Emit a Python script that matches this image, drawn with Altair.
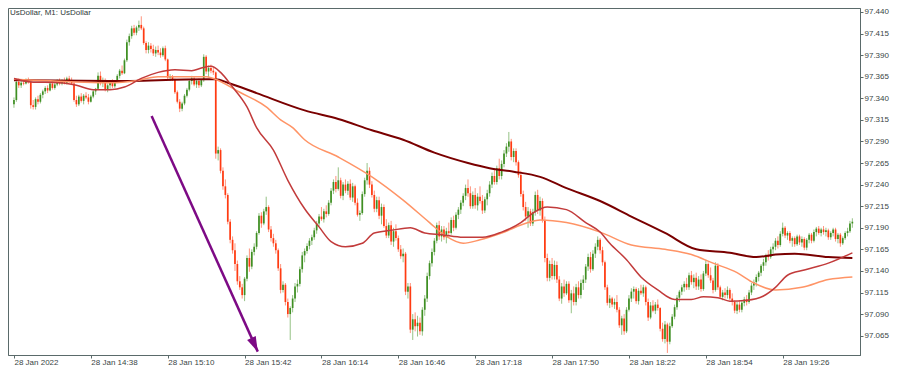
import json
import altair as alt
import pandas as pd

# ---- candle data: prices in thousandths above 97.000, one candle per minute from 14:06 ----
OPEN = [333,338,359,355,358,357,361,359,332,330,
339,336,344,348,352,349,357,352,356,360,
357,361,358,363,360,357,338,333,342,337,
343,341,336,342,348,351,366,358,361,350,
355,359,354,360,366,372,369,384,405,412,
421,416,422,425,421,404,396,401,397,392,
396,393,390,398,385,364,365,362,347,336,
328,334,343,350,360,363,356,360,355,361,
388,371,375,372,370,276,280,256,238,228,
197,176,164,148,128,121,112,131,155,145,
162,168,184,204,195,209,214,188,178,172,
164,143,118,124,104,90,97,108,122,125,
142,158,163,169,175,179,187,195,203,200,
209,206,219,233,243,235,245,227,240,233,
241,225,238,219,205,207,229,245,256,240,
228,212,222,204,214,192,181,193,174,186,
178,165,157,160,116,122,72,84,76,80,
70,95,108,134,149,162,175,193,180,188,
179,186,184,199,190,205,211,219,227,236,
230,215,228,216,226,221,210,223,230,240,
250,243,259,250,264,276,284,290,272,279,
266,251,229,214,203,209,195,208,228,210,
221,199,155,132,148,134,147,130,108,122,
114,125,106,114,104,121,112,126,130,145,
156,142,160,168,176,164,150,121,103,108,
101,104,95,77,85,70,95,108,116,119,
105,117,114,121,104,86,100,94,101,97,
73,61,78,58,76,87,98,109,116,121,
125,121,135,127,132,122,130,119,137,148,
135,129,118,146,121,110,115,112,118,108,
104,94,101,95,103,107,104,115,123,127,
133,138,146,150,158,156,165,168,175,170,
183,190,181,184,175,178,171,180,173,177,
167,176,182,175,185,189,184,188,185,187,
179,184,188,177,182,172,178,184,186,195]

HIGH = [341,362,363,360,362,363,364,360,338,341,
343,346,350,354,355,359,360,358,362,363,
362,364,365,366,364,359,343,344,346,345,
347,345,344,350,352,370,371,364,363,357,
361,362,361,368,374,378,386,408,415,424,
425,424,430,435,423,406,405,404,402,400,
401,398,400,401,386,368,367,363,349,339,
336,345,352,362,366,365,362,363,362,391,
390,378,379,376,371,284,282,260,246,230,
200,180,172,152,134,125,133,158,166,165,
172,186,207,208,212,226,216,192,183,176,
166,148,128,126,108,99,112,126,130,145,
162,166,172,178,182,190,198,206,214,212,
216,222,236,246,250,260,248,243,246,244,
246,242,240,224,210,232,248,265,260,244,
233,226,226,218,217,200,196,198,190,194,
181,170,166,162,126,126,90,92,88,86,
98,112,138,152,166,178,196,198,192,192,
190,196,202,204,208,214,222,230,240,246,
238,232,236,230,238,228,226,234,244,254,
258,262,270,268,280,288,301,293,282,282,
268,256,233,220,214,212,212,232,234,226,
224,203,160,152,155,152,151,134,126,130,
128,128,118,122,125,128,130,135,148,160,
162,164,172,180,178,168,152,124,112,110,
108,112,98,88,90,98,112,120,122,121,
120,124,124,123,108,104,106,104,107,98,
80,82,80,80,90,101,112,118,124,128,
132,138,140,136,138,134,136,140,153,150,
144,132,150,149,123,118,120,122,120,114,
106,104,106,106,110,112,118,126,130,136,
140,148,154,160,164,168,172,178,180,186,
196,192,186,186,180,180,182,182,180,179,
178,184,184,188,191,192,190,192,190,189,
186,190,190,184,184,180,186,190,198,201]

LOW = [329,336,352,352,355,356,357,328,327,327,
333,334,340,345,346,348,350,350,354,355,
355,356,356,358,356,336,330,331,335,333,
339,333,335,340,344,350,355,353,348,347,
351,352,352,358,363,367,368,382,401,409,
413,413,418,419,402,392,392,393,389,388,
390,387,388,383,362,360,360,345,334,324,
325,332,341,348,356,354,352,352,353,359,
368,364,369,367,270,268,253,234,224,194,
172,160,140,124,118,108,105,128,139,142,
158,165,182,190,193,205,185,174,168,160,
140,114,115,100,86,60,92,104,115,122,
138,150,160,165,170,176,183,192,198,196,
202,204,216,229,231,233,224,222,230,228,
222,220,216,203,198,205,226,240,236,225,
208,208,200,194,190,178,178,170,168,175,
162,154,150,112,108,68,60,70,64,66,
65,88,104,130,145,158,172,176,174,176,
172,180,182,186,188,200,206,215,222,226,
212,212,212,210,218,206,207,216,226,236,
240,240,246,246,260,272,278,268,266,262,
248,226,210,198,190,192,192,204,206,204,
196,150,128,128,130,130,126,105,102,110,
112,103,91,100,100,108,108,118,126,140,
138,140,155,164,160,146,118,100,97,98,
96,92,74,66,66,68,93,104,108,102,
101,112,110,100,82,84,92,90,94,70,
58,56,45,55,74,84,95,104,112,116,
118,118,124,120,118,118,116,117,134,132,
126,114,116,118,108,106,108,108,106,100,
91,90,92,92,99,100,102,112,118,122,
128,134,140,146,152,154,160,164,166,168,
180,178,176,172,168,168,169,170,168,164,
164,172,172,173,180,182,180,182,180,176,
176,180,174,172,168,170,176,180,184,190]

CLOSE = [338,359,355,358,357,361,359,332,330,339,
336,344,348,352,349,357,352,356,360,357,
361,358,363,360,357,338,333,342,337,343,
341,336,342,348,351,366,358,361,350,355,
359,354,360,366,372,369,384,405,412,421,
416,422,425,421,404,396,401,397,392,396,
393,390,398,385,364,365,362,347,336,328,
334,343,350,360,363,356,360,355,361,388,
371,375,372,370,276,280,256,238,228,197,
176,164,148,128,121,112,131,155,145,162,
168,184,204,195,209,214,188,178,172,164,
143,118,124,104,90,97,108,122,125,142,
158,163,169,175,179,187,195,203,200,209,
206,219,233,243,235,245,227,240,233,241,
225,238,219,205,207,229,245,256,240,228,
212,222,204,214,192,181,193,174,186,178,
165,157,160,116,122,72,84,76,80,70,
95,108,134,149,162,175,193,180,188,179,
186,184,199,190,205,211,219,227,236,230,
215,228,216,226,221,210,223,230,240,250,
243,259,250,264,276,284,290,272,279,266,
251,229,214,203,209,195,208,228,210,221,
199,155,132,148,134,147,130,108,122,114,
125,106,114,104,121,112,126,130,145,156,
142,160,168,176,164,150,121,103,108,101,
104,95,77,85,70,95,108,116,119,105,
117,114,121,104,86,100,94,101,97,73,
61,78,58,76,87,98,109,116,121,125,
121,135,127,132,122,130,119,137,148,135,
129,118,146,121,110,115,112,118,108,104,
94,101,95,103,107,104,115,123,127,133,
138,146,150,158,156,165,168,175,170,183,
190,181,184,175,178,171,180,173,177,167,
176,182,175,185,189,184,188,185,187,179,
184,188,177,182,172,178,184,186,195,197]

# ---- moving averages (minute index, thousandths) ----
MA_SLOW_T = [0,40,80,84,89,101,121,135,149,162,175,189,198,208,219,230,244,257,271,284,298,309,317,325,339,349]
MA_SLOW_V = [361,360,362,362,358,346,326,316,303,292,277,265,259,255,249,236,221,203,184,165,161,156,159,160,156,155]

MA_MID_T = [0,26,40,52,60,74,80,83,94,105,111,116,121,135,149,162,173,180,187,194,203,214,219,230,244,257,271,282,291,301,308,317,328,339,349]
MA_MID_V = [362,359,358,361,365,365,365,363,347,330,315,306,292,272,249,222,196,180,172,176,184,196,199,196,185,170,165,159,149,138,126,118,121,130,133]

MA_FAST_T = [0,7,19,26,33,40,46,53,60,67,74,78,82,86,91,97,101,108,114,121,127,132,138,145,150,157,165,171,178,187,195,203,211,216,222,230,238,244,248,255,261,268,275,282,287,293,298,305,312,317,322,329,339,349]
MA_FAST_V = [363,359,358,355,350,350,353,363,370,373,372,375,377,370,353,330,306,280,245,212,191,174,168,172,184,187,190,184,182,179,179,185,196,207,214,211,196,185,172,153,133,118,107,107,110,109,105,106,111,121,135,141,149,161]

ARROW_T = [57.3, 101.5]
ARROW_V = [319.5, 46.5]

X_TICKS = [0, 32, 64, 96, 128, 160, 192, 224, 256, 288, 320]
X_LABELS = ["28 Jan 2022", "28 Jan 14:38", "28 Jan 15:10", "28 Jan 15:42", "28 Jan 16:14",
            "28 Jan 16:46", "28 Jan 17:18", "28 Jan 17:50", "28 Jan 18:22", "28 Jan 18:54",
            "28 Jan 19:26"]
Y_TICKS = [97.065, 97.090, 97.115, 97.140, 97.165, 97.190, 97.215, 97.240, 97.265,
           97.290, 97.315, 97.340, 97.365, 97.390, 97.415, 97.440]
TITLE = "UsDollar, M1:  UsDollar"

BASE = 97.0
GREEN = "#3f8f23"
RED = "#ff3b12"
AXIS_COL = "#5a6a6a"
LABEL_COL = "#3a4646"
FONT = "Liberation Sans"


def px(v):
    return BASE + v / 1000.0


candles = pd.DataFrame({
    "t": list(range(len(OPEN))),
    "open": [px(v) for v in OPEN],
    "high": [px(v) for v in HIGH],
    "low": [px(v) for v in LOW],
    "close": [px(v) for v in CLOSE],
})
candles["dir"] = ["up" if c >= o else "down" for o, c in zip(OPEN, CLOSE)]

ma_slow = pd.DataFrame({"t": MA_SLOW_T, "p": [px(v) for v in MA_SLOW_V]})
ma_mid = pd.DataFrame({"t": MA_MID_T, "p": [px(v) for v in MA_MID_V]})
ma_fast = pd.DataFrame({"t": MA_FAST_T, "p": [px(v) for v in MA_FAST_V]})
arrow = pd.DataFrame({"t": ARROW_T, "p": [px(v) for v in ARROW_V]})
arrow_tip = arrow.iloc[[1]]
title_df = pd.DataFrame({"label": [TITLE]})

x_scale = alt.Scale(domain=[-0.4, 350.1], nice=False, zero=False)
y_scale = alt.Scale(domain=[97.0426, 97.4446], nice=False, zero=False)

x_axis = alt.Axis(
    values=X_TICKS,
    labelExpr=json.dumps(X_LABELS) + "[round(datum.value / 32)]",
    labelAlign="left", labelBaseline="top", labelFlush=False, labelOverlap=False,
    tickSize=3, labelPadding=0, grid=False, title=None,
    labelFont=FONT, labelFontSize=8, labelColor=LABEL_COL,
    domainColor=AXIS_COL, tickColor=AXIS_COL,
)
y_axis = alt.Axis(
    orient="right", values=Y_TICKS, format=".3f",
    tickSize=3, labelPadding=1, grid=False, title=None,
    labelFont=FONT, labelFontSize=8, labelColor=LABEL_COL,
    labelBaseline="middle", labelOverlap=False, labelFlush=False,
    domainColor=AXIS_COL, tickColor=AXIS_COL,
)

color_dir = alt.Color("dir:N", scale=alt.Scale(domain=["up", "down"], range=[GREEN, RED]), legend=None)

wicks = alt.Chart(candles).mark_rule(strokeWidth=1, opacity=0.55, clip=True).encode(
    x=alt.X("t:Q", scale=x_scale, axis=x_axis),
    y=alt.Y("low:Q", scale=y_scale, axis=y_axis),
    y2="high:Q",
    color=color_dir,
)
bodies = alt.Chart(candles).mark_bar(size=1.7, clip=True).encode(
    x=alt.X("t:Q", scale=x_scale, axis=x_axis),
    y=alt.Y("open:Q", scale=y_scale, axis=y_axis),
    y2="close:Q",
    color=color_dir,
)


def ma_layer(df, colour, width):
    return alt.Chart(df).mark_line(color=colour, strokeWidth=width, interpolate="monotone", clip=True).encode(
        x=alt.X("t:Q", scale=x_scale, axis=x_axis),
        y=alt.Y("p:Q", scale=y_scale, axis=y_axis),
    )


slow = ma_layer(ma_slow, "#7a0000", 2)
mid = ma_layer(ma_mid, "#ff9466", 1.5)
fast = ma_layer(ma_fast, "#c23b3b", 1.5)

arrow_line = alt.Chart(arrow).mark_line(color="#7d0a85", strokeWidth=2.5, clip=True).encode(
    x=alt.X("t:Q", scale=x_scale, axis=x_axis),
    y=alt.Y("p:Q", scale=y_scale, axis=y_axis),
)
arrow_head = alt.Chart(arrow_tip).mark_point(
    shape="M0,0L0.6,1.9L-0.6,1.9Z", filled=True, size=250, angle=155,
    color="#7d0a85", opacity=1, strokeWidth=0,
).encode(
    x=alt.X("t:Q", scale=x_scale, axis=x_axis),
    y=alt.Y("p:Q", scale=y_scale, axis=y_axis),
)

title = alt.Chart(title_df).mark_text(
    align="left", baseline="top", font=FONT, fontSize=8, color="#2f3a3a"
).encode(text="label:N", x=alt.value(2), y=alt.value(1))

chart = alt.layer(wicks, bodies, slow, mid, fast, arrow_line, arrow_head, title).properties(
    width=852, height=347,
    padding={"left": 0, "top": 0, "right": 30, "bottom": 11},
    autosize=alt.AutoSizeParams(type="none"),
    background="white",
).configure_view(stroke=AXIS_COL, strokeWidth=1)

chart.save("out.html", embed_options={"renderer": "svg", "actions": False})
